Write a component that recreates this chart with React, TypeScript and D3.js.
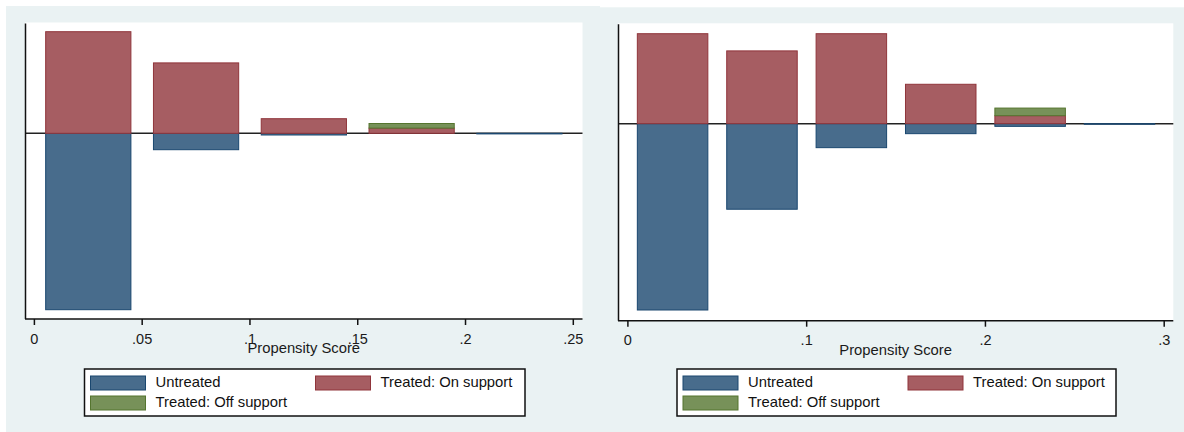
import React from "react";
import * as d3 from "d3";

// ---------- DATA ----------
const binWidth = 0.04;

// Left panel
const binsL = [0.025, 0.075, 0.125, 0.175, 0.225];
const untreatedL = [88.2, 8.2, 0.85, 0, 0.3];
const onSupportL = [50.8, 35.2, 7.3, 2.6, 0];
const offSupportL = [0, 0, 0, 2.3, 0];
const ticksL = [0, 0.05, 0.1, 0.15, 0.2, 0.25];
const tickLabelsL = ["0", ".05", ".1", ".15", ".2", ".25"];

// Right panel
const binsR = [0.025, 0.075, 0.125, 0.175, 0.225, 0.275];
const untreatedR = [93.2, 42.8, 12, 5, 1.35, 0.25];
const onSupportR = [45, 36.4, 45, 19.7, 4, 0];
const offSupportR = [0, 0, 0, 0, 3.8, 0];
const ticksR = [0, 0.1, 0.2, 0.3];
const tickLabelsR = ["0", ".1", ".2", ".3"];

const xTitle = "Propensity Score";
const legendLabels = ["Untreated", "Treated: On support", "Treated: Off support"];

// ---------- STYLE ----------
const COLORS = {
  untreated: { fill: "#486c8c", stroke: "#1a476f" },
  on: { fill: "#a65d62", stroke: "#90353b" },
  off: { fill: "#779159", stroke: "#55752f" },
};
const BG = "#eaf2f3";
const FONT = "'Liberation Sans', Arial, Helvetica, sans-serif";

type PanelProps = {
  bgX0: number;
  bgX1: number;
  bgY0: number;
  plotL: number;
  plotR: number;
  plotT: number;
  plotB: number;
  xDomain: [number, number];
  xRange: [number, number];
  padTop: number;
  padBottom: number;
  bins: number[];
  untreated: number[];
  onSupport: number[];
  offSupport: number[];
  ticks: number[];
  tickLabels: string[];
  legendX: number;
  legendW: number;
};

function Panel(p: PanelProps) {
  const x = d3.scaleLinear().domain(p.xDomain).range(p.xRange);
  const maxV = d3.max(p.onSupport.map((v, i) => v + p.offSupport[i])) as number;
  const minV = -(d3.max(p.untreated) as number);
  const y = d3
    .scaleLinear()
    .domain([minV, maxV])
    .range([p.plotB - p.padBottom, p.plotT + p.padTop]);
  const y0 = y(0);

  const bars: React.ReactNode[] = [];
  p.bins.forEach((c, i) => {
    const xl = x(c - binWidth / 2);
    const xr = x(c + binWidth / 2);
    const w = xr - xl;
    const u = p.untreated[i];
    const on = p.onSupport[i];
    const off = p.offSupport[i];
    if (u > 0) {
      bars.push(
        <rect key={`u${i}`} x={xl + 0.5} y={y0} width={w - 1} height={Math.max(0.6, y(-u) - y0)}
          fill={COLORS.untreated.fill} stroke={COLORS.untreated.stroke} strokeWidth={1} />
      );
    }
    if (on > 0) {
      bars.push(
        <rect key={`o${i}`} x={xl + 0.5} y={y(on)} width={w - 1} height={y0 - y(on)}
          fill={COLORS.on.fill} stroke={COLORS.on.stroke} strokeWidth={1} />
      );
    }
    if (off > 0) {
      bars.push(
        <rect key={`f${i}`} x={xl + 0.5} y={y(on + off)} width={w - 1} height={y(on) - y(on + off)}
          fill={COLORS.off.fill} stroke={COLORS.off.stroke} strokeWidth={1} />
      );
    }
  });

  const lgT = 369;
  const lgH = 47;
  const lx = p.legendX;
  const swW = 55;
  const swH = 14;
  const legendItems = [
    { c: COLORS.untreated, sx: 6, tx: 71, sy: 376, ty: 387, label: legendLabels[0] },
    { c: COLORS.on, sx: 231, tx: 296, sy: 376, ty: 387, label: legendLabels[1] },
    { c: COLORS.off, sx: 6, tx: 71, sy: 396, ty: 407, label: legendLabels[2] },
  ];

  const cx = (p.plotL + p.plotR) / 2;

  return (
    <g>
      <rect x={p.bgX0} y={p.bgY0} width={p.bgX1 - p.bgX0} height={432 - p.bgY0} fill={BG} />
      <rect x={p.plotL} y={p.plotT} width={p.plotR - p.plotL} height={p.plotB - p.plotT} fill="#ffffff" />
      {/* zero line */}
      <line x1={p.plotL} x2={p.plotR} y1={y0} y2={y0} stroke="#222" strokeWidth={1.5} />
      {bars}
      {/* axes */}
      <line x1={p.plotL + 0.5} x2={p.plotL + 0.5} y1={p.plotT + 1} y2={p.plotB} stroke="#111" strokeWidth={1.5} />
      <line x1={p.plotL} x2={p.plotR} y1={p.plotB} y2={p.plotB} stroke="#111" strokeWidth={1.5} />
      {p.ticks.map((t, i) => (
        <g key={`t${i}`}>
          <line x1={x(t)} x2={x(t)} y1={p.plotB} y2={p.plotB + 6} stroke="#111" strokeWidth={1.5} />
          <text x={x(t)} y={p.plotB + 24.5} textAnchor="middle" fontFamily={FONT} fontSize={14.5} fill="#1a1a1a">
            {p.tickLabels[i]}
          </text>
        </g>
      ))}
      <text x={cx} y={p.plotB + 34} textAnchor="middle" fontFamily={FONT} fontSize={14.8} fill="#1a1a1a">
        {xTitle}
      </text>
      {/* legend */}
      <rect x={lx} y={lgT} width={p.legendW} height={lgH} fill="#ffffff" stroke="#111" strokeWidth={1.5} />
      {legendItems.map((it, i) => (
        <g key={`l${i}`}>
          <rect x={lx + it.sx} y={it.sy} width={swW} height={swH} fill={it.c.fill} stroke={it.c.stroke} strokeWidth={1} />
          <text x={lx + it.tx} y={it.ty} fontFamily={FONT} fontSize={14.8} fill="#111">
            {it.label}
          </text>
        </g>
      ))}
    </g>
  );
}

export default function App() {
  return (
    <svg width={1184} height={432} viewBox="0 0 1184 432"
      style={{ position: "absolute", left: 0, top: 0, display: "block", background: "#ffffff" }}>
      <Panel
        bgX0={6} bgX1={600} bgY0={6}
        plotL={25} plotR={582.5} plotT={22.5} plotB={319}
        xDomain={[0, 0.25]} xRange={[34.4, 573.3]}
        padTop={9.2} padBottom={9.3}
        bins={binsL} untreated={untreatedL} onSupport={onSupportL} offSupport={offSupportL}
        ticks={ticksL} tickLabels={tickLabelsL}
        legendX={84.5} legendW={440.5}
      />
      <Panel
        bgX0={600} bgX1={1184} bgY0={7.3}
        plotL={618} plotR={1173.3} plotT={23.3} plotB={320.7}
        xDomain={[0, 0.3]} xRange={[627.9, 1164.2]}
        padTop={10.4} padBottom={10.7}
        bins={binsR} untreated={untreatedR} onSupport={onSupportR} offSupport={offSupportR}
        ticks={ticksR} tickLabels={tickLabelsR}
        legendX={677} legendW={439}
      />
    </svg>
  );
}
